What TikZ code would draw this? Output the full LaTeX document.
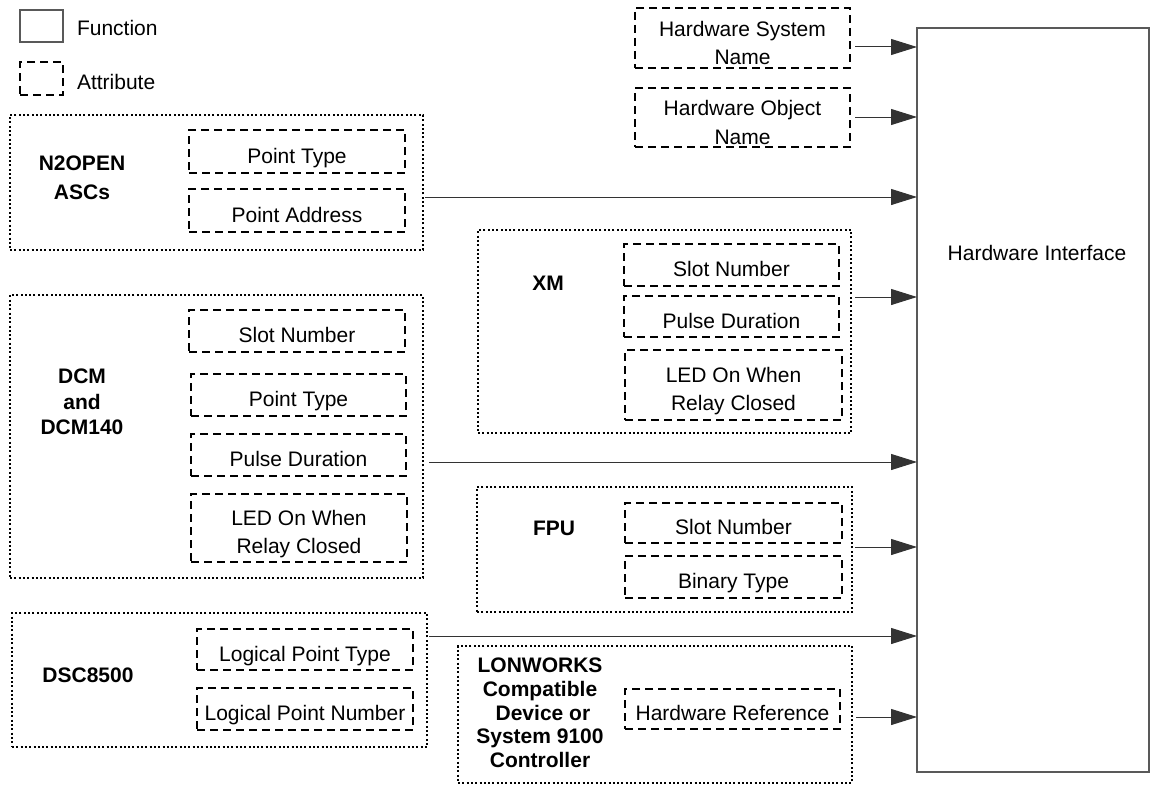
\documentclass[tikz,border=0pt]{standalone}
\usepackage{fontspec}
\setmainfont{Liberation Sans}
\usetikzlibrary{arrows.meta}
\newcommand\dnfive[1]{\raisebox{-5pt}[\height][\depth]{#1}}
\newcommand\dnsix[1]{\raisebox{-6pt}[\height][\depth]{#1}}
\begin{document}
\begin{tikzpicture}[x=1pt,y=-1pt,
  every node/.style={font=\fontsize{21}{24}\selectfont, inner sep=0pt, outer sep=0pt},
  attr/.style={draw, line width=1.4pt, dash pattern=on 8pt off 5pt, anchor=north west, align=center, font=\fontsize{21}{28.5}\selectfont},
  attrone/.style={attr, text height=27.6pt, text depth=4pt},
  grp/.style={draw, line width=1.6pt, dash pattern=on 2pt off 2.3pt, anchor=north west},
  func/.style={draw=black!65, line width=1.3pt, anchor=north west},
  lbl/.style={font=\bfseries\fontsize{21}{25.5}\selectfont, align=center},
  arr/.style={line width=1pt, draw=black!80, -{Triangle[length=26pt,width=16pt]}},
]
\useasboundingbox (0,0) rectangle (1158,792);

% legend
\node[func, minimum width=43pt, minimum height=32pt] (legf) at (20,10) {};
\node[anchor=west] (legft) at (77,28) {Function};
\node[attr, minimum width=43pt, minimum height=33pt] (lega) at (20,62) {};
\node[anchor=west] (legat) at (77,82) {Attribute};

% hardware interface
\node[func, minimum width=232pt, minimum height=744pt] (hi) at (917,28) {};
\node (hit) at (1037,253) {Hardware Interface};

% top attributes
\node[attr, minimum width=215pt, minimum height=60pt] (hsn) at (635,8) {\dnfive{Hardware System}\\\dnfive{Name}};
\node[attr, minimum width=215pt, minimum height=59pt] (hon) at (635,88) {\dnfive{Hardware Object}\\\dnfive{Name}};

% N2OPEN
\node[grp, minimum width=413pt, minimum height=135pt] (n2) at (10,115) {};
\node[lbl, font=\bfseries\fontsize{21}{29}\selectfont] (n2l) at (82,177.5) {N2OPEN\\ASCs};
\node[attrone, minimum width=216pt, minimum height=43pt] (n2pt) at (189,130) {Point Type};
\node[attrone, minimum width=216pt, minimum height=43pt] (n2pa) at (189,189) {Point Address};

% DCM
\node[grp, minimum width=413pt, minimum height=283pt] (dcm) at (10,295) {};
\node[lbl] (dcml) at (82,402) {DCM\\and\\DCM140};
\node[attrone, minimum width=216pt, minimum height=42pt] (dcmsn) at (189,310) {Slot Number};
\node[attrone, minimum width=215pt, minimum height=42pt] (dcmpt) at (191,374) {Point Type};
\node[attrone, minimum width=215pt, minimum height=42pt] (dcmpd) at (191,434) {Pulse Duration};
\node[attr, minimum width=216pt, minimum height=68pt] (dcmled) at (191,494) {\dnsix{LED On When}\\\dnsix{Relay Closed}};

% XM
\node[grp, minimum width=373pt, minimum height=203pt] (xm) at (478,230) {};
\node[lbl] (xml) at (548,283) {XM};
\node[attrone, minimum width=215pt, minimum height=42pt] (xmsn) at (624,244) {Slot Number};
\node[attrone, minimum width=215pt, minimum height=41pt] (xmpd) at (624,296) {Pulse Duration};
\node[attr, minimum width=217pt, minimum height=70pt] (xmled) at (625,350) {\dnsix{LED On When}\\\dnsix{Relay Closed}};

% FPU
\node[grp, minimum width=375pt, minimum height=125pt] (fpu) at (477,487) {};
\node[lbl] (fpul) at (554,528) {FPU};
\node[attrone, minimum width=217pt, minimum height=40pt] (fpusn) at (625,503) {Slot Number};
\node[attrone, minimum width=217pt, minimum height=42pt] (fpubt) at (625,556) {Binary Type};

% DSC8500
\node[grp, minimum width=415pt, minimum height=134pt] (dsc) at (12,613) {};
\node[lbl] (dscl) at (88,675) {DSC8500};
\node[attrone, minimum width=216pt, minimum height=41pt] (dsclpt) at (197,629) {Logical Point Type};
\node[attrone, minimum width=216pt, minimum height=42pt] (dsclpn) at (197,688) {Logical Point Number};

% LONWORKS
\node[grp, minimum width=394pt, minimum height=137pt] (lon) at (458,646) {};
\node[lbl, font=\bfseries\fontsize{21}{23.7}\selectfont] (lonl) at (540,713) {LONWORKS\\Compatible\\\ Device or\\System 9100\\Controller};
\node[attrone, minimum width=215pt, minimum height=40pt] (lonhr) at (625,689) {Hardware Reference};

% connectors
\draw[arr] ([xshift=5pt]hsn.east |- 0,47) -- (hi.west |- 0,47);
\draw[arr] ([xshift=5pt]hon.east |- 0,117) -- (hi.west |- 0,117);
\draw[arr] ([xshift=2pt]n2.east |- 0,197) -- (hi.west |- 0,197);
\draw[arr] ([xshift=4pt]xm.east |- 0,297) -- (hi.west |- 0,297);
\draw[arr] ([xshift=6pt]dcm.east |- 0,462) -- (hi.west |- 0,462);
\draw[arr] ([xshift=3pt]fpu.east |- 0,547) -- (hi.west |- 0,547);
\draw[arr] ([xshift=2pt]dsc.east |- 0,636) -- (hi.west |- 0,636);
\draw[arr] ([xshift=4pt]lon.east |- 0,717) -- (hi.west |- 0,717);
\end{tikzpicture}
\end{document}
